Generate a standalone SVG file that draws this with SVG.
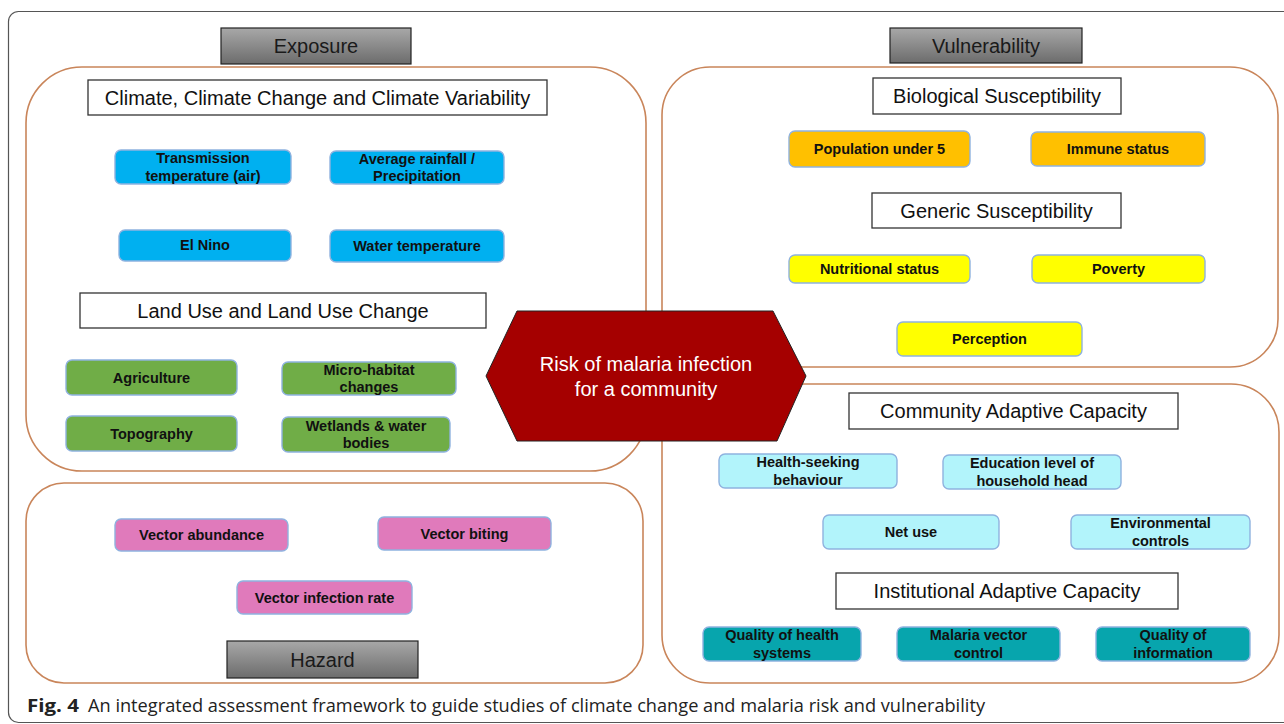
<svg xmlns="http://www.w3.org/2000/svg" width="1284" height="724" viewBox="0 0 1284 724">
<defs>
<linearGradient id="gray" x1="0" y1="0" x2="0" y2="1">
<stop offset="0" stop-color="#a8a8a8"/>
<stop offset="1" stop-color="#6c6c6c"/>
</linearGradient>
<style>
.frame{fill:#fff;stroke:#555;stroke-width:1.2}
.panel{fill:none;stroke:#c9855a;stroke-width:1.6}
.hdr{fill:url(#gray);stroke:#222;stroke-width:1.2}
.ttl{fill:#fff;stroke:#333;stroke-width:1.3}
.nd{stroke:#8fb2df;stroke-width:1.4}
.blue{fill:#00b0f0}.org{fill:#ffc000}.yel{fill:#ffff00}.grn{fill:#70ad47}.pnk{fill:#e07abb}.cyn{fill:#b2f4fb}.tel{fill:#07a5ad}
.t{font-family:"Liberation Sans",Arial,sans-serif;fill:#111;text-anchor:middle}
.hx{font-size:20px;fill:#1a1a1a}
.tt{font-size:20px}
.n{font-size:14.5px;font-weight:bold}
.risk{font-size:20px;fill:#fff}
.cap{font-family:"Open Sans","Noto Sans",sans-serif;font-size:18px;fill:#222}
</style>
</defs>
<rect class="frame" x="8.5" y="11.5" width="1300" height="711" rx="10"/>

<g id="panels">
<rect id="exposure-panel" class="panel" x="26" y="67" width="620" height="404" rx="56"/>
<rect id="hazard-panel" class="panel" x="26" y="483" width="617" height="200" rx="38"/>
<rect id="vuln-upper-panel" class="panel" x="662" y="67" width="616" height="300" rx="48"/>
<rect id="vuln-lower-panel" class="panel" x="662" y="384" width="617" height="299" rx="48"/>
</g>

<g id="connectors"></g>

<g id="exposure-header"><rect class="hdr" x="221" y="28" width="190" height="36"/><text class="t hx" x="316" y="53">Exposure</text></g>
<g id="vulnerability-header"><rect class="hdr" x="890" y="28" width="192" height="35"/><text class="t hx" x="986" y="52.5">Vulnerability</text></g>
<g id="hazard-header"><rect class="hdr" x="227" y="641" width="191" height="37"/><text class="t hx" x="322.5" y="666.5">Hazard</text></g>

<g id="climate-title"><rect class="ttl" x="88" y="80" width="459" height="35"/><text class="t tt" x="317.5" y="104.5">Climate, Climate Change and Climate Variability</text></g>
<g id="landuse-title"><rect class="ttl" x="80" y="293" width="406" height="35"/><text class="t tt" x="283" y="317.5">Land Use and Land Use Change</text></g>
<g id="bio-title"><rect class="ttl" x="873" y="78" width="248" height="36"/><text class="t tt" x="997" y="103">Biological Susceptibility</text></g>
<g id="generic-title"><rect class="ttl" x="872" y="193" width="249" height="35"/><text class="t tt" x="996.5" y="217.5">Generic Susceptibility</text></g>
<g id="community-title"><rect class="ttl" x="849" y="393" width="329" height="36"/><text class="t tt" x="1013.5" y="418">Community Adaptive Capacity</text></g>
<g id="institutional-title"><rect class="ttl" x="836" y="573" width="342" height="36"/><text class="t tt" x="1007" y="598">Institutional Adaptive Capacity</text></g>

<g id="transmission-temp"><rect class="nd blue" x="115" y="150" width="176" height="34" rx="6"/><text class="t n" x="203" y="163">Transmission</text><text class="t n" x="203" y="181">temperature (air)</text></g>
<g id="avg-rainfall"><rect class="nd blue" x="330" y="151" width="174" height="33" rx="6"/><text class="t n" x="417" y="163.5">Average rainfall /</text><text class="t n" x="417" y="181">Precipitation</text></g>
<g id="el-nino"><rect class="nd blue" x="119" y="230" width="172" height="31" rx="6"/><text class="t n" x="205" y="250">El Nino</text></g>
<g id="water-temp"><rect class="nd blue" x="330" y="230" width="174" height="32" rx="6"/><text class="t n" x="417" y="251">Water temperature</text></g>

<g id="agriculture"><rect class="nd grn" x="66" y="360" width="171" height="35" rx="6"/><text class="t n" x="151.5" y="382.5">Agriculture</text></g>
<g id="micro-habitat"><rect class="nd grn" x="282" y="362" width="174" height="33" rx="6"/><text class="t n" x="369" y="374.5">Micro-habitat</text><text class="t n" x="369" y="392">changes</text></g>
<g id="topography"><rect class="nd grn" x="66" y="416" width="171" height="35" rx="6"/><text class="t n" x="151.5" y="438.5">Topography</text></g>
<g id="wetlands"><rect class="nd grn" x="282" y="417" width="168" height="35" rx="6"/><text class="t n" x="366" y="430.5">Wetlands &amp; water</text><text class="t n" x="366" y="448">bodies</text></g>

<g id="vector-abundance"><rect class="nd pnk" x="115" y="519" width="173" height="32" rx="6"/><text class="t n" x="201.5" y="540">Vector abundance</text></g>
<g id="vector-biting"><rect class="nd pnk" x="378" y="517" width="173" height="33" rx="6"/><text class="t n" x="464.5" y="538.5">Vector biting</text></g>
<g id="vector-infection"><rect class="nd pnk" x="237" y="581" width="175" height="33" rx="6"/><text class="t n" x="324.5" y="602.5">Vector infection rate</text></g>

<g id="population-under-5"><rect class="nd org" x="789" y="131" width="181" height="36" rx="6"/><text class="t n" x="879.5" y="154">Population under 5</text></g>
<g id="immune-status"><rect class="nd org" x="1031" y="132" width="174" height="34" rx="6"/><text class="t n" x="1118" y="154">Immune status</text></g>
<g id="nutritional-status"><rect class="nd yel" x="789" y="255" width="181" height="28" rx="6"/><text class="t n" x="879.5" y="274">Nutritional status</text></g>
<g id="poverty"><rect class="nd yel" x="1032" y="255" width="173" height="28" rx="6"/><text class="t n" x="1118.5" y="274">Poverty</text></g>
<g id="perception"><rect class="nd yel" x="897" y="322" width="185" height="34" rx="6"/><text class="t n" x="989.5" y="344">Perception</text></g>

<g id="health-seeking"><rect class="nd cyn" x="719" y="454" width="178" height="34" rx="6"/><text class="t n" x="808" y="467">Health-seeking</text><text class="t n" x="808" y="485">behaviour</text></g>
<g id="education-level"><rect class="nd cyn" x="943" y="455" width="178" height="34" rx="6"/><text class="t n" x="1032" y="468">Education level of</text><text class="t n" x="1032" y="486">household head</text></g>
<g id="net-use"><rect class="nd cyn" x="823" y="515" width="176" height="34" rx="6"/><text class="t n" x="911" y="537">Net use</text></g>
<g id="environmental-controls"><rect class="nd cyn" x="1071" y="515" width="179" height="34" rx="6"/><text class="t n" x="1160.5" y="528">Environmental</text><text class="t n" x="1160.5" y="546">controls</text></g>

<g id="quality-health-systems"><rect class="nd tel" x="703" y="627" width="158" height="34" rx="6"/><text class="t n" x="782" y="640">Quality of health</text><text class="t n" x="782" y="658">systems</text></g>
<g id="malaria-vector-control"><rect class="nd tel" x="897" y="627" width="163" height="34" rx="6"/><text class="t n" x="978.5" y="640">Malaria vector</text><text class="t n" x="978.5" y="658">control</text></g>
<g id="quality-information"><rect class="nd tel" x="1096" y="627" width="154" height="34" rx="6"/><text class="t n" x="1173" y="640">Quality of</text><text class="t n" x="1173" y="658">information</text></g>

<g id="risk-hexagon"><polygon points="486,376 517,311 773,311 806,376 777,441 517,441" fill="#a50000" stroke="#222" stroke-width="1"/><text class="t risk" x="646" y="371">Risk of malaria infection</text><text class="t risk" x="646" y="396">for a community</text></g>

<g id="caption"><text class="cap" x="27" y="712" font-weight="bold" textLength="52" lengthAdjust="spacingAndGlyphs">Fig. 4</text><text class="cap" x="88" y="712" textLength="897" lengthAdjust="spacingAndGlyphs">An integrated assessment framework to guide studies of climate change and malaria risk and vulnerability</text></g>
</svg>
